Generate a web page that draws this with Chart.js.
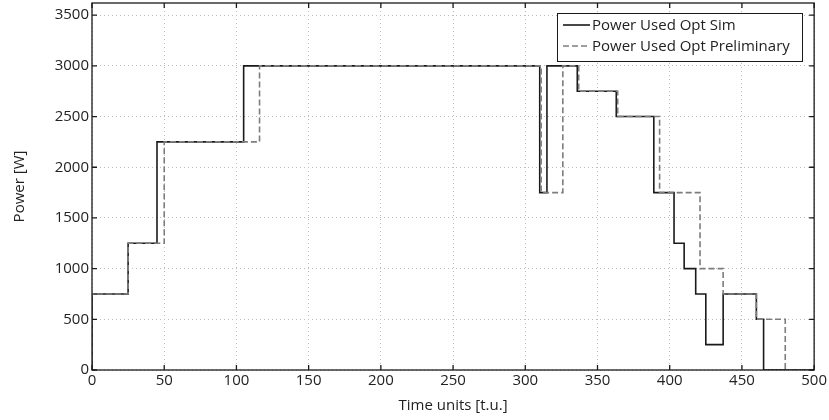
<!DOCTYPE html>
<html>
<head>
<meta charset="utf-8">
<script src="https://cdn.jsdelivr.net/npm/chart.js@4"></script>
<style>
  html,body{margin:0;padding:0;background:#fff;}
  #wrap{width:829px;height:420px;}
</style>
</head>
<body>
<div id="wrap"><canvas id="powerChart" width="829" height="420"></canvas></div>
<script>
// step data: each time is where the value starts
const simTimes  = [0, 0, 25, 45, 105, 310, 315, 336, 363, 389, 403, 410, 418, 425, 437, 460, 465, 500];
const simValues = [0, 750, 1250, 2250, 3000, 1750, 3000, 2750, 2500, 1750, 1250, 1000, 750, 250, 750, 500, 0, 0];

const preTimes  = [0, 0, 25, 50, 116, 311, 326, 337, 364, 393, 421, 437, 460, 480, 500];
const preValues = [0, 750, 1250, 2250, 3000, 1750, 3000, 2750, 2500, 1750, 1000, 750, 500, 0, 0];

// axis ticks
const xTicks = [0, 50, 100, 150, 200, 250, 300, 350, 400, 450, 500];
const yTicks = [0, 500, 1000, 1500, 2000, 2500, 3000, 3500];

const FONT = '"Open Sans"';

function toPoints(times, values){
    return times.map((t, i) => ({x: t, y: values[i]}));
}

// box round the plot + inner tick marks + legend in the corner
const framePlugin = {
    id: 'frame',
    afterDraw(chart){
        const {ctx, chartArea: a, scales} = chart;
        ctx.save();
        ctx.strokeStyle = '#1a1a1a';
        ctx.lineWidth = 1.3;
        ctx.strokeRect(a.left, a.top, a.right - a.left, a.bottom - a.top);
        ctx.beginPath();
        xTicks.forEach(v => {
            const px = scales.x.getPixelForValue(v);
            ctx.moveTo(px, a.bottom); ctx.lineTo(px, a.bottom - 5);
            ctx.moveTo(px, a.top);    ctx.lineTo(px, a.top + 5);
        });
        yTicks.forEach(v => {
            const py = scales.y.getPixelForValue(v);
            ctx.moveTo(a.left, py);  ctx.lineTo(a.left + 5, py);
            ctx.moveTo(a.right, py); ctx.lineTo(a.right - 5, py);
        });
        ctx.stroke();

        // legend
        const bx = 557, by = 13, bw = 245, bh = 48;
        ctx.fillStyle = '#fff';
        ctx.fillRect(bx, by, bw, bh);
        ctx.lineWidth = 1;
        ctx.strokeStyle = '#1a1a1a';
        ctx.strokeRect(bx + 0.5, by + 0.5, bw, bh);
        ctx.font = '15px ' + FONT;
        ctx.textBaseline = 'middle';
        chart.data.datasets.forEach((ds, i) => {
            const ly = by + 12 + i * 21;
            ctx.strokeStyle = ds.borderColor;
            ctx.lineWidth = ds.borderWidth;
            ctx.setLineDash(ds.borderDash || []);
            ctx.beginPath();
            ctx.moveTo(bx + 6, ly); ctx.lineTo(bx + 33, ly);
            ctx.stroke();
            ctx.setLineDash([]);
            ctx.fillStyle = '#222';
            ctx.fillText(ds.label, bx + 35, ly + 1);
        });
        ctx.restore();
    }
};

const config = {
    type: 'line',
    data: {
        datasets: [{
            label: 'Power Used Opt Sim',
            data: toPoints(simTimes, simValues),
            borderColor: '#1a1a1a',
            borderWidth: 1.6,
            stepped: true,
            pointRadius: 0,
            order: 1
        }, {
            label: 'Power Used Opt Preliminary',
            data: toPoints(preTimes, preValues),
            borderColor: '#7d7d7d',
            borderWidth: 1.6,
            borderDash: [6, 3],
            stepped: true,
            pointRadius: 0,
            order: 0
        }]
    },
    options: {
        responsive: false,
        animation: false,
        layout: {padding: {top: 3, right: 14, left: 0, bottom: 0}},
        plugins: {legend: {display: false}, tooltip: {enabled: false}},
        scales: {
            x: {
                type: 'linear',
                min: 0, max: 500,
                afterBuildTicks: s => { s.ticks = xTicks.map(v => ({value: v})); },
                afterFit: s => { s.height = 50; },
                grid: {color: '#bdbdbd', lineWidth: 1, drawTicks: false},
                border: {display: false, dash: [1, 3]},
                ticks: {color: '#222', font: {family: 'Open Sans', size: 15}, padding: 2, maxRotation: 0,
                        callback: v => String(v)},
                title: {display: true, text: 'Time units [t.u.]', color: '#222',
                        font: {family: 'Open Sans', size: 15}, padding: {top: 0, bottom: 5}}
            },
            y: {
                min: 0, max: 3620,
                afterBuildTicks: s => { s.ticks = yTicks.map(v => ({value: v})); },
                afterFit: s => { s.width = 92; s.paddingTop = 0; s.paddingBottom = 0; },
                grid: {color: '#bdbdbd', lineWidth: 1, drawTicks: false},
                border: {display: false, dash: [1, 3]},
                ticks: {color: '#222', font: {family: 'Open Sans', size: 15}, padding: 3,
                        callback: v => String(v)},
                title: {display: true, text: 'Power [W]', color: '#222',
                        font: {family: 'Open Sans', size: 15}, padding: {top: 11, bottom: 0}}
            }
        }
    },
    plugins: [framePlugin]
};

new Chart(document.getElementById('powerChart').getContext('2d'), config);
</script>
</body>
</html>
